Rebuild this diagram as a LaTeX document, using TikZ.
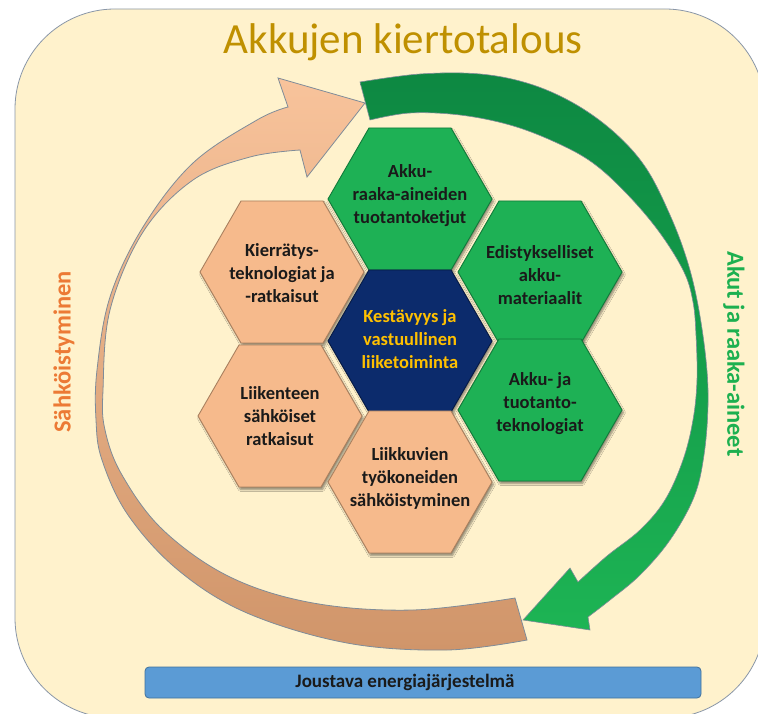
\documentclass[tikz,border=0pt]{standalone}
\usepackage{fontspec}
\setmainfont{Carlito}
\usetikzlibrary{shapes.geometric,shadows.blur}
\definecolor{bgcream}{HTML}{FFF2CC}
\definecolor{bgedge}{HTML}{8A97A8}
\definecolor{titlegold}{HTML}{BF9000}
\definecolor{hexgreen}{HTML}{1EB155}
\definecolor{hexgreenD}{HTML}{127A3A}
\definecolor{hexpeach}{HTML}{F6BA8C}
\definecolor{hexpeachD}{HTML}{A9805F}
\definecolor{hexblue}{HTML}{0C2B6C}
\definecolor{hexblueD}{HTML}{061A45}
\definecolor{txtdark}{HTML}{1A1A1A}
\definecolor{txtgold}{HTML}{FFC000}
\definecolor{arrpeachT}{HTML}{F8C39B}
\definecolor{arrpeachM}{HTML}{F4B78A}
\definecolor{arrtan}{HTML}{D0956A}
\definecolor{arredge}{HTML}{7F8C99}
\definecolor{arrgreenT}{HTML}{0D8842}
\definecolor{arrgreenB}{HTML}{1DB454}
\definecolor{orangetxt}{HTML}{EC7A35}
\definecolor{greentxt}{HTML}{1DB050}
\definecolor{barblue}{HTML}{5B9BD5}
\definecolor{barblueD}{HTML}{41719C}
\tikzset{
  hexbox/.style={regular polygon, regular polygon sides=6, minimum size=164pt,
    inner sep=0pt, line width=0.9pt,
    blur shadow={shadow xshift=1.5pt, shadow yshift=-2.5pt, shadow blur steps=6, shadow opacity=45}},
  greenhex/.style={hexbox, fill=hexgreen, draw=hexgreenD},
  peachhex/.style={hexbox, fill=hexpeach, draw=hexpeachD},
  bluehex/.style={hexbox, fill=hexblue, draw=hexblueD},
  hextext/.style={align=center, font=\bfseries\fontsize{18.5}{23}\selectfont, text=txtdark, inner sep=0pt},
  centertext/.style={hextext, text=txtgold},
  sidetext/.style={font=\bfseries\fontsize{24.5}{28}\selectfont, inner sep=0pt},
}
\begin{document}
\begin{tikzpicture}[x=1pt,y=-1pt]
\useasboundingbox (0,0) rectangle (758,714);
\fill[white] (0,0) rectangle (758,714);
% background panel
\draw[fill=bgcream, draw=bgedge, line width=0.8pt, rounded corners=100pt] (15,9) rectangle (765,718);
% title
\node[anchor=base, text=titlegold, font=\fontsize{43}{50}\selectfont, inner sep=0pt] (title) at (403,54) {Akkujen kiertotalous};

% peach / tan arrow (Sähköistyminen)
\path[draw=arredge, line width=0.8pt, top color=arrpeachT, middle color=arrpeachM, bottom color=arrtan]
  (365,103) -- (278,78) -- (288,107)
  -- plot[smooth, tension=0.6] coordinates {(288,107) (257,120) (193,163) (143,227) (110,297) (97,370) (96,420) (102,460) (128,515) (178,570) (247,613) (347,643) (447,650) (527,640)}
  -- (515,598)
  -- plot[smooth, tension=0.6] coordinates {(515,598) (413,610) (313,603) (230,577) (163,530) (122,475) (105,430) (103,390) (110,310) (143,232) (193,180) (250,157) (300,150)}
  -- (307,177) -- cycle;

% green arrow (Akut ja raaka-aineet)
\path[draw=arredge, line width=0.6pt, top color=arrgreenT, bottom color=arrgreenB]
  (360,82)
  -- plot[smooth, tension=0.6] coordinates {(360,82) (420,74) (480,74) (530,84) (575,104) (615,133) (646,168) (670,215) (687,260) (698,305) (706,360) (708,405) (704,455) (694,497) (670,540) (640,575) (610,600) (588,617)}
  -- (590,630) -- (523,620) -- (570,568)
  -- plot[smooth, tension=0.6] coordinates {(578,582) (607,556) (640,530) (665,500) (683,460) (693,420) (697,380) (696,335) (693,302) (684,272) (660,233) (628,195) (593,163) (555,142) (510,125) (460,115) (410,113) (370,120)}
  -- cycle;

% side labels
\node[sidetext, text=orangetxt, rotate=90] (leftlabel) at (64,352) {Sähköistyminen};
\node[sidetext, text=greentxt, rotate=-90] (rightlabel) at (734,354) {Akut ja raaka-aineet};

% hexagons
\node[greenhex] (hT) at (410,199) {};
\node[peachhex] (hUL) at (282,272) {};
\node[greenhex] (hUR) at (540,272) {};
\node[bluehex] (hC) at (410,341) {};
\node[peachhex] (hLL) at (280,416) {};
\node[greenhex] (hLR) at (540,410) {};
\node[peachhex] (hB) at (410,482) {};

\node[hextext] (tT) at (410,196) {Akku-\\raaka-aineiden\\tuotantoketjut};
\node[hextext] (tUL) at (282,273) {Kierrätys-\\teknologiat ja\\-ratkaisut};
\node[hextext] (tUR) at (540,275) {Edistykselliset\\akku-\\materiaalit};
\node[centertext] (tC) at (410,339) {Kestävyys ja\\vastuullinen\\liiketoiminta};
\node[hextext] (tLL) at (280,416) {Liikenteen\\sähköiset\\ratkaisut};
\node[hextext] (tLR) at (540,404) {Akku- ja\\tuotanto-\\teknologiat};
\node[hextext] (tB) at (410,478) {Liikkuvien\\työkoneiden\\sähköistyminen};

% bottom bar
\node[draw=barblueD, fill=barblue, line width=0.8pt, rounded corners=4pt, minimum width=556pt, minimum height=31pt, inner sep=0pt] (bar) at (423,682.5) {};
\node[font=\bfseries\fontsize{19}{22}\selectfont, text=txtdark, inner sep=0pt] (bartext) at (405,682) {Joustava energiajärjestelmä};
\end{tikzpicture}
\end{document}
